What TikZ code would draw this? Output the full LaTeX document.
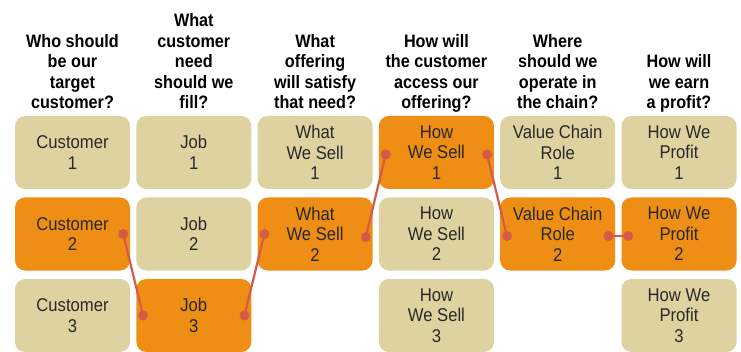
\documentclass[tikz,border=0pt]{standalone}
\usepackage{fontspec}
\setmainfont{Liberation Sans}[FakeStretch=0.9]
\newfontfamily\headfont{Liberation Sans}[FakeStretch=0.9]
\definecolor{boxtan}{RGB}{222,211,160}
\definecolor{boxorange}{RGB}{238,142,20}
\definecolor{linkred}{RGB}{214,90,72}
\definecolor{boxtext}{RGB}{40,40,40}

\begin{document}
\begin{tikzpicture}[x=1pt, y=1pt,
    choice/.style={rounded corners=10pt, minimum width=115pt, minimum height=73pt, inner sep=0pt, align=center, text depth=-5pt, text=boxtext, font=\fontsize{18.5}{20.5}\selectfont},
    header/.style={anchor=south, align=center, inner sep=0pt, text depth=0pt, font=\headfont\bfseries\fontsize{18}{20.5}\selectfont},
    link/.style={linkred, line width=2.2pt}]
    \useasboundingbox (0,0) rectangle (741,351);

    % Column headers
    \node[header] (head1) at (72.5,242) {Who should\\be our\\target\\customer?};
    \node[header] (head2) at (193.8,242) {What\\customer\\need\\should we\\fill?};
    \node[header] (head3) at (315.1,242) {What\\offering\\will satisfy\\that need?};
    \node[header] (head4) at (436.4,242) {How will\\the customer\\access our\\offering?};
    \node[header] (head5) at (557.7,242) {Where\\should we\\operate in\\the chain?};
    \node[header] (head6) at (679,242) {How will\\we earn\\a profit?};

    % Choice boxes, one column at a time
    \foreach \r/\y/\c in {1/198.5/boxtan, 2/117/boxorange, 3/35.5/boxtan}
        \node[choice, fill=\c] (cust\r) at (72.5,\y) {Customer\\\r};
    \foreach \r/\y/\c in {1/198.5/boxtan, 2/117/boxtan, 3/35.5/boxorange}
        \node[choice, fill=\c] (job\r) at (193.8,\y) {Job\\\r};
    \foreach \r/\y/\c in {1/198.5/boxtan, 2/117/boxorange}
        \node[choice, fill=\c] (what\r) at (315.1,\y) {What\\We Sell\\\r};
    \foreach \r/\y/\c in {1/198.5/boxorange, 2/117/boxtan, 3/35.5/boxtan}
        \node[choice, fill=\c] (how\r) at (436.4,\y) {How\\We Sell\\\r};
    \foreach \r/\y/\c in {1/198.5/boxtan, 2/117/boxorange}
        \node[choice, fill=\c] (role\r) at (557.7,\y) {Value Chain\\Role\\\r};
    \foreach \r/\y/\c in {1/198.5/boxtan, 2/117/boxorange, 3/35.5/boxtan}
        \node[choice, fill=\c] (profit\r) at (679,\y) {How We\\Profit\\\r};

    % Link end points
    \coordinate[xshift=-7pt] (cust2r) at (cust2.east);
    \coordinate[xshift=7pt] (job3l) at (job3.west);
    \coordinate[xshift=-7pt] (job3r) at (job3.east);
    \coordinate[xshift=7pt] (what2l) at (what2.west);
    \coordinate[xshift=-7pt, yshift=-3pt] (what2r) at (what2.east);
    \coordinate[xshift=7pt, yshift=-2pt] (how1l) at (how1.west);
    \coordinate[xshift=-7pt, yshift=-2pt] (how1r) at (how1.east);
    \coordinate[xshift=7pt, yshift=-2pt] (role2l) at (role2.west);
    \coordinate[xshift=-7pt, yshift=-2pt] (role2r) at (role2.east);
    \coordinate[xshift=7pt, yshift=-2pt] (profit2l) at (profit2.west);

    % The chosen path
    \draw[link] (cust2r) -- (job3l);
    \draw[link] (job3r) -- (what2l);
    \draw[link] (what2r) -- (how1l);
    \draw[link] (how1r) -- (role2l);
    \draw[link] (role2r) -- (profit2l);
    \foreach \p in {cust2r, job3l, job3r, what2l, what2r, how1l, how1r, role2l, role2r, profit2l}
        \fill[linkred] (\p) circle (5pt);
\end{tikzpicture}
\end{document}
